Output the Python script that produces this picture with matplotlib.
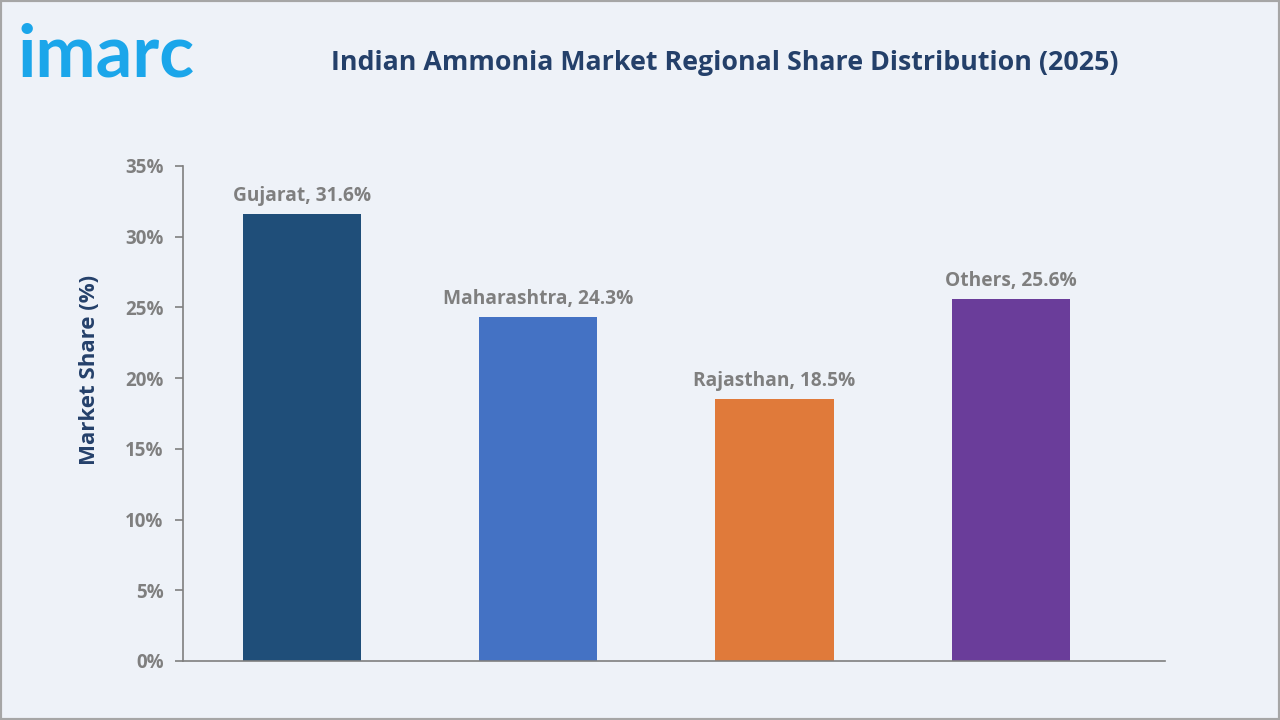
import matplotlib

matplotlib.use("Agg")
import matplotlib.pyplot as plt
from matplotlib.patches import Rectangle
from matplotlib.ticker import FuncFormatter, MultipleLocator

regions = ["Gujarat", "Maharashtra", "Rajasthan", "Others"]
shares = [31.6, 24.3, 18.5, 25.6]
bar_colors = ["#1F4E79", "#4472C4", "#E07A3A", "#6A3D9A"]

title = "Indian Ammonia Market Regional Share Distribution (2025)"
ylabel = "Market Share (%)"

BG = "#EEF2F8"
NAVY = "#24406A"
GREY = "#7F7F7F"

plt.rcParams["font.family"] = ["Open Sans", "DejaVu Sans"]

fig = plt.figure(figsize=(12.8, 7.2), dpi=100, facecolor=BG)
ax = fig.add_axes([0.143, 0.082, 0.767, 0.6875], facecolor=BG)

x = range(len(regions))
ax.bar(x, shares, width=0.5, color=bar_colors, zorder=2)

for xi, name, v in zip(x, regions, shares):
    ax.annotate(f"{name}, {v}%", (xi, v), xytext=(0, 6), textcoords="offset points",
                ha="center", va="bottom", fontsize=13.8, fontweight="bold", color=GREY)

ax.set_xlim(-0.504, 3.652)
ax.set_ylim(0, 35)
ax.yaxis.set_major_locator(MultipleLocator(5))
ax.yaxis.set_major_formatter(FuncFormatter(lambda v, _: f"{v:.0f}%"))
ax.set_xticks([])

for side in ["top", "right"]:
    ax.spines[side].set_visible(False)
for side in ["left", "bottom"]:
    ax.spines[side].set_color(GREY)
    ax.spines[side].set_linewidth(1.2)
ax.tick_params(axis="y", colors=GREY, length=6, width=1.2, pad=8, labelsize=13.5)
for lab in ax.get_yticklabels():
    lab.set_fontweight("bold")

ax.set_ylabel(ylabel, fontsize=16, fontweight="bold", color=NAVY)
ax.yaxis.set_label_coords(-0.085, 0.588)

fig.text(0.566, 0.912, title, ha="center", va="center",
         fontsize=19.3, fontweight="bold", color=NAVY)
fig.text(0.014, 0.894, "imarc", ha="left", va="baseline",
         fontsize=52, fontweight="bold", color="#1BA6EA", family=["Lato", "DejaVu Sans"])

# thin grey frame round the picture
fig.patches.append(Rectangle((0, 0), 1, 1, transform=fig.transFigure, fill=False,
                             edgecolor="#A6A6A6", linewidth=3))

fig.savefig("out.png", dpi=100, facecolor=BG)
